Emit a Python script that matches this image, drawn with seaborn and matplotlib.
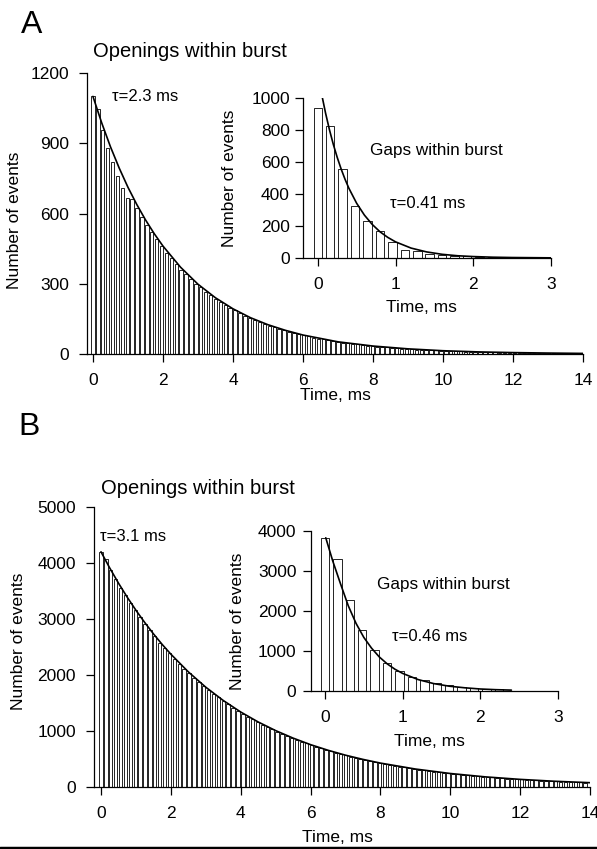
import numpy as np
import pandas as pd
import matplotlib
matplotlib.use("Agg")
import matplotlib.pyplot as plt
import seaborn as sns
from matplotlib.lines import Line2D

# bin widths of the histograms (ms)
bin_open = 0.14
bin_gap = 0.16

# A: openings within burst, counts per bin (bins start at 0 ms)
open_a = [1100, 1048, 958, 880, 818, 762, 709, 666, 660, 625,
          585, 552, 520, 490, 462, 432, 408, 385, 360, 340,
          320, 300, 284, 266, 251, 236, 222, 209, 197, 186,
          175, 164, 155, 146, 137, 129, 121, 114, 108, 101,
          95, 90, 85, 80, 75, 70, 66, 62, 59, 55,
          52, 49, 46, 44, 41, 38, 36, 34, 32, 30,
          28, 27, 25, 23, 22, 21, 19, 18, 17, 16,
          15, 14, 13, 12, 11, 11, 10, 9, 9, 8,
          8, 7, 7, 6, 6, 5, 5, 5, 4, 4,
          4, 3, 3, 3, 3]
# A inset: gaps within burst
gap_a = [938, 826, 554, 326, 230, 168, 97, 52, 41, 25, 20, 15, 11, 9, 7, 5, 4, 3]

# B: openings within burst
open_b = [4190, 4070, 3880, 3720, 3560, 3420, 3290, 3160, 3030, 2910,
          2800, 2690, 2580, 2480, 2385, 2290, 2200, 2115, 2030, 1950,
          1875, 1800, 1730, 1665, 1600, 1535, 1475, 1418, 1362, 1308,
          1258, 1208, 1160, 1115, 1072, 1030, 990, 950, 913, 878,
          843, 810, 778, 748, 718, 690, 663, 637, 612, 588,
          565, 543, 522, 501, 482, 463, 445, 427, 410, 394,
          379, 364, 350, 336, 323, 310, 298, 286, 275, 264,
          254, 244, 234, 225, 216, 208, 200, 192, 184, 177,
          170, 164, 157, 151, 145, 139, 134, 129, 124, 119,
          114, 110, 105, 101, 97, 93, 90, 86, 83, 80]
# B inset: gaps within burst
gap_b = [3834, 3293, 2279, 1530, 1023, 690, 500, 360, 270, 200, 150, 108, 80, 58, 42]

# fitted curves
fit_open_a_t = [0, 0.25, 0.5, 0.75, 1, 1.25, 1.5, 1.75, 2, 2.5, 3, 3.5, 4, 4.5, 5,
                5.5, 6, 7, 8, 9, 10, 11, 12, 13, 14]
fit_open_a_y = [1100, 987, 885, 794, 712, 639, 573, 514, 461, 371, 298, 240, 193, 155, 125,
                101, 81, 52, 34, 22, 14, 9, 6, 4, 2.5]
fit_gap_a_t = [0.06, 0.1, 0.15, 0.2, 0.25, 0.3, 0.35, 0.4, 0.5, 0.6, 0.7, 0.8, 0.9, 1.0,
               1.2, 1.4, 1.6, 1.8, 2.0, 2.25, 2.5, 3.0]
fit_gap_a_y = [1000, 906, 802, 710, 629, 557, 493, 436, 342, 268, 210, 164, 129, 101,
               62, 38, 23, 14, 9, 5, 3, 1]
fit_open_b_t = [0, 0.25, 0.5, 0.75, 1, 1.25, 1.5, 1.75, 2, 2.5, 3, 3.5, 4, 4.5, 5, 5.5,
                6, 6.5, 7, 7.5, 8, 9, 10, 11, 12, 13, 14]
fit_open_b_y = [4200, 3911, 3641, 3390, 3156, 2939, 2736, 2547, 2372, 2056, 1782, 1545,
                1339, 1161, 1007, 873, 756, 656, 568, 493, 427, 321, 241, 181, 136, 102, 77]
fit_gap_b_t = [0.01, 0.1, 0.2, 0.3, 0.4, 0.5, 0.6, 0.7, 0.8, 0.9, 1.0, 1.2, 1.4, 1.6,
               1.8, 2.0, 2.2, 2.4]
fit_gap_b_y = [3830, 3250, 2680, 2130, 1690, 1340, 1070, 850, 680, 545, 440, 285, 185,
               120, 80, 50, 33, 22]

sns.set_theme(style="ticks", rc={'text.color': 'black', 'axes.labelcolor': 'black',
                                 'axes.edgecolor': 'black', 'xtick.color': 'black',
                                 'ytick.color': 'black'})
plt.rcParams['font.family'] = ['Liberation Sans', 'DejaVu Sans']
plt.rcParams['axes.linewidth'] = 0.9

W, H = 597, 849
fig = plt.figure(figsize=(W / 100, H / 100), dpi=100)


def box(x0, y0, x1, y1):
    # pixel box -> figure fraction rect
    return [x0 / W, 1 - y1 / H, (x1 - x0) / W, (y1 - y0) / H]


def fx(x):
    return x / W


def fy(y):
    return 1 - y / H


def hist(ax, counts, binw, shrink, fit_t, fit_y, xlim, ylim, xticks, yticks, ypad):
    n = len(counts)
    df = pd.DataFrame({'t': np.round(np.arange(n) * binw, 3), 'n': counts})
    edges = [round((i - 0.5) * binw, 3) for i in range(n + 1)]
    sns.histplot(data=df, x='t', weights='n', bins=edges, shrink=shrink,
                 color='white', edgecolor='black', linewidth=0.6, alpha=1, ax=ax)
    sns.lineplot(x=fit_t, y=fit_y, color='black', linewidth=1.2, ax=ax)
    ax.set_xlim(*xlim)
    ax.set_ylim(*ylim)
    ax.set_xticks(xticks)
    ax.set_yticks(yticks)
    ax.set(xlabel='', ylabel='')
    ax.patch.set_alpha(0)
    sns.despine(ax=ax)
    ax.tick_params(axis='both', direction='out', length=6, width=0.9,
                   labelsize=12.5, colors='black')
    ax.tick_params(axis='x', pad=8)
    ax.tick_params(axis='y', pad=ypad)


# ---- panel A
ax_a = fig.add_axes(box(87, 73, 583, 354))
hist(ax_a, open_a, bin_open, 0.7, fit_open_a_t, fit_open_a_y,
     (-0.17, 14), (0, 1200), range(0, 15, 2), range(0, 1201, 300), 7)
ax_ai = fig.add_axes(box(303, 98, 551, 258))
hist(ax_ai, gap_a, bin_gap, 0.68, fit_gap_a_t, fit_gap_a_y,
     (-0.19, 3), (0, 1000), range(0, 4), range(0, 1001, 200), 3.5)

# ---- panel B
ax_b = fig.add_axes(box(94, 507, 590, 787))
hist(ax_b, open_b, bin_open, 0.7, fit_open_b_t, fit_open_b_y,
     (-0.2, 14), (0, 5000), range(0, 15, 2), range(0, 5001, 1000), 7)
ax_bi = fig.add_axes(box(311, 531, 558, 691))
hist(ax_bi, gap_b, bin_gap, 0.68, fit_gap_b_t, fit_gap_b_y,
     (-0.18, 3), (0, 4000), range(0, 4), range(0, 4001, 1000), 4.5)

# ---- text
fig.text(fx(32), fy(25), 'A', fontsize=23, ha='center', va='center')
fig.text(fx(29), fy(427), 'B', fontsize=23, ha='center', va='center')

fig.text(fx(93), fy(57), 'Openings within burst', fontsize=14.5, va='baseline')
fig.text(fx(101), fy(494), 'Openings within burst', fontsize=14.5, va='baseline')

fig.text(fx(112), fy(101), 'τ=2.3 ms', fontsize=12, va='baseline')
fig.text(fx(100), fy(541), 'τ=3.1 ms', fontsize=12, va='baseline')
fig.text(fx(370), fy(155), 'Gaps within burst', fontsize=12.3, va='baseline')
fig.text(fx(390), fy(208), 'τ=0.41 ms', fontsize=12, va='baseline')
fig.text(fx(377), fy(589), 'Gaps within burst', fontsize=12.3, va='baseline')
fig.text(fx(392), fy(641), 'τ=0.46 ms', fontsize=12, va='baseline')

for x, y in [(15, 220), (230, 178), (19, 641), (237, 621)]:
    fig.text(fx(x), fy(y), 'Number of events', fontsize=12.5, rotation=90,
             ha='center', va='center')
for x, y in [(335, 396), (421, 307), (337, 837), (429, 741)]:
    fig.text(fx(x), fy(y), 'Time, ms', fontsize=12.5, ha='center', va='center')

# thick rule at the bottom
fig.add_artist(Line2D([0, 1], [fy(848), fy(848)], transform=fig.transFigure,
                      color='black', linewidth=2.5))

fig.savefig('out.png', dpi=100)
